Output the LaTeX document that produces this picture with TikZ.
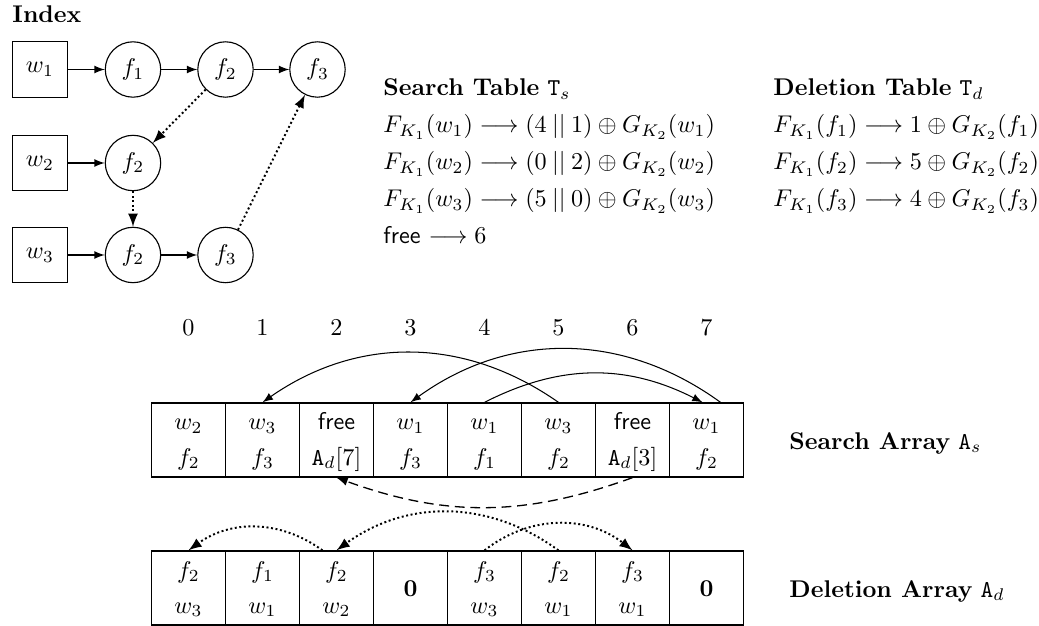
\documentclass[tikz,border=0pt]{standalone}
\usepackage{amsmath}
\begin{document}
\begin{tikzpicture}[x=0.3845pt,y=-0.3845pt,
  wbox/.style={draw, rectangle, scale=0.93, minimum size=22.9pt, inner sep=0pt, line width=0.43pt},
  fcirc/.style={draw, circle, scale=0.93, minimum size=22.9pt, inner sep=0pt, line width=0.43pt},
  cell/.style={draw, rectangle, minimum size=28.45pt, inner sep=0pt, line width=0.5pt},
  lbl/.style={anchor=base, inner sep=0pt, scale=0.93},
  zlbl/.style={inner sep=0pt, scale=0.93},
  tbl/.style={anchor=base west, inner sep=0pt, scale=0.93},
  ptr/.style={-latex},
  dotptr/.style={-latex, line width=0.75pt, dash pattern=on 0.75pt off 1.0pt},
  dashptr/.style={-latex, line width=0.5pt, dash pattern=on 3.8pt off 2.2pt}]
\useasboundingbox (0,0) rectangle (1039,626);

% ---------- Index ----------
\node[tbl] (idx) at (12,23) {\textbf{Index}};
\node[wbox] (w1) at (40,69.5) {$w_1$};
\node[fcirc] (a1) at (133,69.5) {$f_1$};
\node[fcirc] (a2) at (225.5,69.5) {$f_2$};
\node[fcirc] (a3) at (317.5,69.5) {$f_3$};
\node[wbox] (w2) at (40,163) {$w_2$};
\node[fcirc] (b1) at (133,163) {$f_2$};
\node[wbox] (w3) at (40,255) {$w_3$};
\node[fcirc] (c1) at (133,255) {$f_2$};
\node[fcirc] (c2) at (225.5,255) {$f_3$};
\draw[ptr] (w1) -- (a1);
\draw[ptr] (a1) -- (a2);
\draw[ptr] (a2) -- (a3);
\draw[ptr] (w2) -- (b1);
\draw[ptr] (w3) -- (c1);
\draw[ptr] (c1) -- (c2);
\draw[dotptr] (a2) -- (b1);
\draw[dotptr] (b1) -- (c1);
\draw[dotptr] (c2) -- (a3);

% ---------- Tables ----------
\node[tbl] (st) at (383,96) {\textbf{Search Table} $\mathtt{T}_s$};
\node[tbl] (st1) at (383,133) {$F_{K_1}(w_1) \longrightarrow (4 \mathbin{||} 1) \oplus G_{K_2}(w_1)$};
\node[tbl] (st2) at (383,170) {$F_{K_1}(w_2) \longrightarrow (0 \mathbin{||} 2) \oplus G_{K_2}(w_2)$};
\node[tbl] (st3) at (383,207) {$F_{K_1}(w_3) \longrightarrow (5 \mathbin{||} 0) \oplus G_{K_2}(w_3)$};
\node[tbl] (st4) at (383,244) {\textsf{free} $\longrightarrow 6$};

\node[tbl] (dt) at (773,96) {\textbf{Deletion Table} $\mathtt{T}_d$};
\node[tbl] (dt1) at (773,133) {$F_{K_1}(f_1) \longrightarrow 1 \oplus G_{K_2}(f_1)$};
\node[tbl] (dt2) at (773,170) {$F_{K_1}(f_2) \longrightarrow 5 \oplus G_{K_2}(f_2)$};
\node[tbl] (dt3) at (773,207) {$F_{K_1}(f_3) \longrightarrow 4 \oplus G_{K_2}(f_3)$};

% ---------- Index numbers ----------
\foreach \i in {0,...,7} {
  \node[lbl] (n\i) at (188.5+74*\i,336) {\i};
}

% ---------- Cells ----------
\foreach \i in {0,...,7} {
  \node[cell] (s\i) at (188.5+74*\i,440) {};
  \node[cell] (d\i) at (188.5+74*\i,588) {};
}

% ---------- Search array ----------
\node[lbl] (s0a) at (188.5,430) {$w_2$};
\node[lbl] (s0b) at (188.5,465) {$f_2$};
\node[lbl] (s1a) at (262.5,430) {$w_3$};
\node[lbl] (s1b) at (262.5,465) {$f_3$};
\node[lbl] (s2a) at (336.5,430) {\textsf{free}};
\node[lbl] (s2b) at (336.5,465) {$\mathtt{A}_d[7]$};
\node[lbl] (s3a) at (410.5,430) {$w_1$};
\node[lbl] (s3b) at (410.5,465) {$f_3$};
\node[lbl] (s4a) at (484.5,430) {$w_1$};
\node[lbl] (s4b) at (484.5,465) {$f_1$};
\node[lbl] (s5a) at (558.5,430) {$w_3$};
\node[lbl] (s5b) at (558.5,465) {$f_2$};
\node[lbl] (s6a) at (632.5,430) {\textsf{free}};
\node[lbl] (s6b) at (632.5,465) {$\mathtt{A}_d[3]$};
\node[lbl] (s7a) at (706.5,430) {$w_1$};
\node[lbl] (s7b) at (706.5,465) {$f_2$};
\node[tbl] (sal) at (789,449) {\textbf{Search Array} $\mathtt{A}_s$};

% ---------- Deletion array ----------
\node[lbl] (d0a) at (188.5,578) {$f_2$};
\node[lbl] (d0b) at (188.5,613) {$w_3$};
\node[lbl] (d1a) at (262.5,578) {$f_1$};
\node[lbl] (d1b) at (262.5,613) {$w_1$};
\node[lbl] (d2a) at (336.5,578) {$f_2$};
\node[lbl] (d2b) at (336.5,613) {$w_2$};
\node[zlbl] (d3z) at (410.5,589) {$\mathbf{0}$};
\node[lbl] (d4a) at (484.5,578) {$f_3$};
\node[lbl] (d4b) at (484.5,613) {$w_3$};
\node[lbl] (d5a) at (558.5,578) {$f_2$};
\node[lbl] (d5b) at (558.5,613) {$w_1$};
\node[lbl] (d6a) at (632.5,578) {$f_3$};
\node[lbl] (d6b) at (632.5,613) {$w_1$};
\node[zlbl] (d7z) at (706.5,589) {$\mathbf{0}$};
\node[tbl] (dal) at (789,597) {\textbf{Deletion Array} $\mathtt{A}_d$};

% ---------- Pointers ----------
\draw[ptr] (s5.north) to[bend right=35] (s1.north);
\draw[ptr] ([xshift=5.4pt]s7.north) to[bend right=36] (s3.north);
\draw[ptr] (s4.north) to[bend left=27] ([xshift=-1.5pt]s7.north);
\draw[dashptr] (s6.south) to[bend left=20] (s2.south);
\draw[dotptr] (d5.north) to[bend right=36] (d2.north);
\draw[dotptr] (d4.north) to[bend left=38] (d6.north);
\draw[dotptr] ([xshift=-5.4pt]d2.north) to[bend right=36] (d0.north);
\end{tikzpicture}
\end{document}
